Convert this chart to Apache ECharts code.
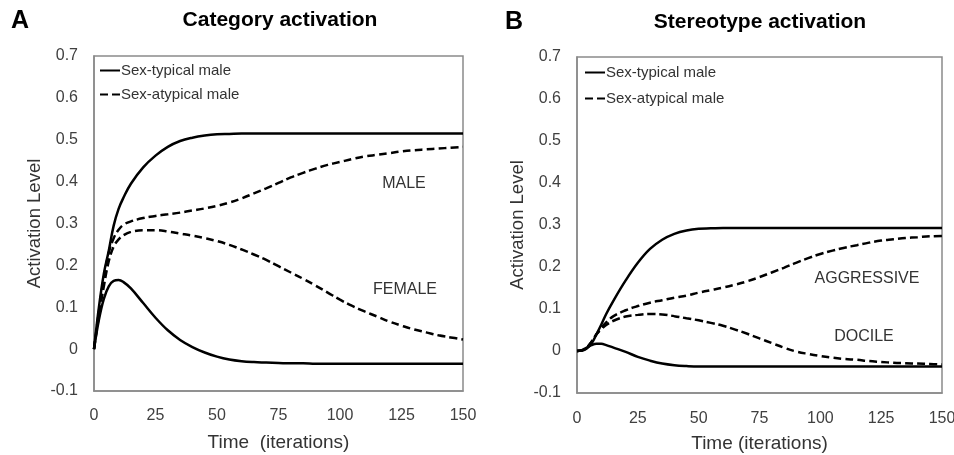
<!DOCTYPE html>
<html>
<head>
<meta charset="utf-8">
<script src="https://cdn.jsdelivr.net/npm/echarts@6/dist/echarts.min.js"></script>
<style>
html,body{margin:0;padding:0;background:#fff;}
#c{width:954px;height:455px;}
</style>
</head>
<body>
<div id="c"></div>
<script>
// ---- data ----
var time = [0,2,4,6,8,10,12,15,20,25,30,35,40,45,50,55,60,65,70,75,80,85,90,95,100,105,110,115,120,125,130,135,140,145,150];
var yTicks = [-0.1,0,0.1,0.2,0.3,0.4,0.5,0.6,0.7];
var xTicks = [0,25,50,75,100,125,150];

// Panel A: Category activation
var catMaleTypical   = [0,0.10,0.18,0.235,0.295,0.335,0.362,0.395,0.434,0.462,0.483,0.497,0.505,0.51,0.513,0.514,0.515,0.515,0.515,0.515,0.515,0.515,0.515,0.515,0.515,0.515,0.515,0.515,0.515,0.515,0.515,0.515,0.515,0.515,0.515];
var catFemaleTypical = [0,0.07,0.12,0.15,0.163,0.165,0.16,0.145,0.11,0.075,0.045,0.022,0.005,-0.008,-0.018,-0.025,-0.029,-0.031,-0.032,-0.033,-0.034,-0.034,-0.035,-0.035,-0.035,-0.035,-0.035,-0.035,-0.035,-0.035,-0.035,-0.035,-0.035,-0.035,-0.035];
var catMaleAtypical  = [0,0.09,0.17,0.23,0.265,0.285,0.297,0.305,0.313,0.318,0.322,0.326,0.331,0.336,0.342,0.35,0.36,0.372,0.384,0.397,0.41,0.421,0.431,0.44,0.447,0.454,0.46,0.464,0.468,0.472,0.475,0.477,0.479,0.481,0.483];
var catFemaleAtypical= [0,0.08,0.15,0.21,0.245,0.262,0.272,0.28,0.284,0.284,0.281,0.276,0.271,0.265,0.258,0.249,0.238,0.226,0.213,0.198,0.183,0.168,0.152,0.135,0.118,0.103,0.09,0.078,0.066,0.056,0.047,0.04,0.033,0.028,0.023];

// Panel B: Stereotype activation
var stAggTypical     = [0,0.001,0.006,0.018,0.04,0.063,0.088,0.12,0.168,0.21,0.243,0.265,0.279,0.287,0.291,0.292,0.293,0.293,0.293,0.293,0.293,0.293,0.293,0.293,0.293,0.293,0.293,0.293,0.293,0.293,0.293,0.293,0.293,0.293,0.293];
var stDocTypical     = [0,0.002,0.008,0.014,0.017,0.017,0.014,0.008,-0.002,-0.014,-0.023,-0.03,-0.034,-0.036,-0.037,-0.037,-0.037,-0.037,-0.037,-0.037,-0.037,-0.037,-0.037,-0.037,-0.037,-0.037,-0.037,-0.037,-0.037,-0.037,-0.037,-0.037,-0.037,-0.037,-0.037];
var stAggAtypical    = [0,0.001,0.008,0.022,0.04,0.055,0.068,0.083,0.097,0.107,0.115,0.121,0.127,0.132,0.139,0.145,0.151,0.158,0.166,0.176,0.187,0.198,0.21,0.221,0.231,0.239,0.246,0.252,0.258,0.263,0.266,0.269,0.271,0.273,0.274];
var stDocAtypical    = [0,0.001,0.008,0.022,0.04,0.052,0.062,0.072,0.082,0.086,0.088,0.087,0.083,0.078,0.073,0.067,0.06,0.051,0.041,0.03,0.019,0.008,-0.001,-0.007,-0.012,-0.016,-0.019,-0.021,-0.024,-0.026,-0.028,-0.029,-0.03,-0.031,-0.032];

var legendNames = ['Sex-typical male','Sex-atypical male'];
var titles = ['Category activation','Stereotype activation'];
var panelLetters = ['A','B'];
var xNames = ['Time  (iterations)','Time (iterations)'];
var yName = 'Activation Level';

// ---- chart ----
var FONT = 'Arial, "Liberation Sans", sans-serif';
function pair(xs, ys){ return xs.map(function(x,i){return [x, ys[i]];}); }
function fmtY(v){ var s = (Math.round(v*10)/10).toFixed(1); if (s==='0.0' || s==='-0.0') return '0'; return s; }

function makeX(idx){
  return {
    type:'value', gridIndex:idx, min:0, max:150, interval:25,
    name:xNames[idx], nameLocation:'middle', nameGap:[42,41][idx],
    nameTextStyle:{fontFamily:FONT,fontSize:19,color:'#333'},
    axisLine:{show:true,onZero:false,lineStyle:{color:'#8a8a8a',width:1.5}},
    axisTick:{show:false}, splitLine:{show:false},
    axisLabel:{fontFamily:FONT,fontSize:16,color:'#404040',margin:[17,18][idx]}
  };
}
function makeY(idx){
  return {
    type:'value', gridIndex:idx, min:-0.1, max:0.7, interval:0.1,
    name:yName, nameLocation:'middle', nameGap:50,
    nameTextStyle:{fontFamily:FONT,fontSize:18.5,color:'#333'},
    axisLine:{show:true,onZero:false,lineStyle:{color:'#8a8a8a',width:1.5}},
    axisTick:{show:false}, splitLine:{show:false},
    axisLabel:{fontFamily:FONT,fontSize:16,color:'#404040',margin:16,formatter:fmtY}
  };
}
function line(name, idx, data, dashed){
  return {
    type:'line', name:name, xAxisIndex:idx, yAxisIndex:idx,
    data:pair(time, data), smooth:0.4, symbol:'none', silent:true,
    lineStyle:{color:'#000', width:2.5, type: dashed ? [8,4] : 'solid'},
    itemStyle:{color:'#000'}
  };
}
var legendCommon = {
  orient:'vertical', itemWidth:20, itemHeight:14, selectedMode:false, padding:0,
  itemStyle:{opacity:0, color:'transparent', borderWidth:0},
  textStyle:{fontFamily:FONT,fontSize:15,color:'#333',padding:[0,0,0,-4]}
};
function legend(left, top, gap){
  var o = {left:left, top:top, itemGap:gap, data:legendNames};
  for (var k in legendCommon) o[k] = legendCommon[k];
  return o;
}

var chart = echarts.init(document.getElementById('c'), null, {renderer:'canvas'});
chart.setOption({
  animation:false,
  backgroundColor:'#fff',
  grid:[
    {left:94, top:56, width:369, height:335, show:true, borderColor:'#8a8a8a', borderWidth:1.5, containLabel:false, outerBoundsMode:'none'},
    {left:577, top:57, width:365, height:336, show:true, borderColor:'#8a8a8a', borderWidth:1.5, containLabel:false, outerBoundsMode:'none'}
  ],
  xAxis:[makeX(0), makeX(1)],
  yAxis:[makeY(0), makeY(1)],
  legend:[legend(99, 63, 9), legend(584, 65, 11)],
  series:[
    line(legendNames[0],0,catMaleTypical,false),
    line(legendNames[0],0,catFemaleTypical,false),
    line(legendNames[1],0,catMaleAtypical,true),
    line(legendNames[1],0,catFemaleAtypical,true),
    line(legendNames[0],1,stAggTypical,false),
    line(legendNames[0],1,stDocTypical,false),
    line(legendNames[1],1,stAggAtypical,true),
    line(legendNames[1],1,stDocAtypical,true)
  ],
  graphic:[
    {type:'text', x:20, y:21, style:{text:panelLetters[0], font:'bold 25px '+FONT, fill:'#000', align:'center', verticalAlign:'middle'}},
    {type:'text', x:514, y:22, style:{text:panelLetters[1], font:'bold 25px '+FONT, fill:'#000', align:'center', verticalAlign:'middle'}},
    {type:'text', x:280, y:20, style:{text:titles[0], font:'bold 21px '+FONT, fill:'#000', align:'center', verticalAlign:'middle'}},
    {type:'text', x:760, y:22, style:{text:titles[1], font:'bold 21px '+FONT, fill:'#000', align:'center', verticalAlign:'middle'}},
    {type:'text', x:404, y:184, style:{text:'MALE', font:'16px '+FONT, fill:'#333', align:'center', verticalAlign:'middle'}},
    {type:'text', x:405, y:290, style:{text:'FEMALE', font:'16px '+FONT, fill:'#333', align:'center', verticalAlign:'middle'}},
    {type:'text', x:867, y:279, style:{text:'AGGRESSIVE', font:'16px '+FONT, fill:'#333', align:'center', verticalAlign:'middle'}},
    {type:'text', x:864, y:337, style:{text:'DOCILE', font:'16px '+FONT, fill:'#333', align:'center', verticalAlign:'middle'}}
  ]
});
</script>
</body>
</html>
